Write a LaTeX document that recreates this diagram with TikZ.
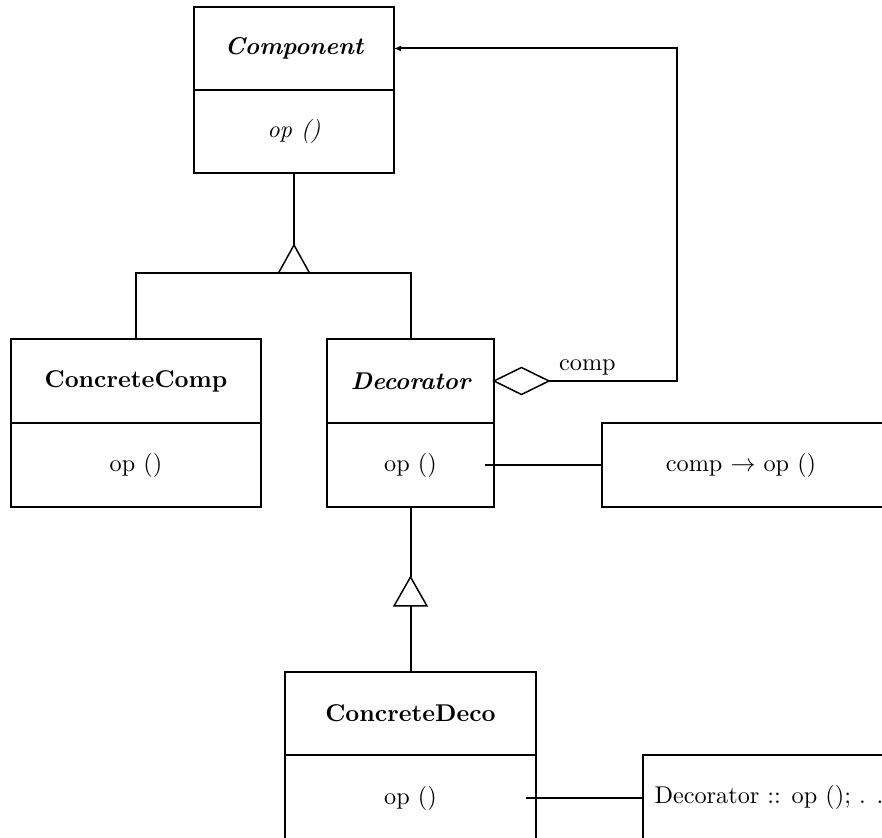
\documentclass[tikz,border=0pt]{standalone}
\usetikzlibrary{shapes.geometric,arrows.meta}
\begin{document}
\begin{tikzpicture}[x=0.4pt,y=-0.4pt,
  every node/.style={font=\fontsize{9.7}{11.6}\selectfont},
  box/.style={draw,line width=0.8pt,inner sep=0pt,outer sep=0pt},
  thin line/.style={line width=0.6pt},
  conn/.style={line width=0.8pt},
  plain/.style={inner sep=0pt}]
\useasboundingbox (0,0) rectangle (882,838);
\clip (0,0) rectangle (882,838);
% Component
\node[box,minimum width=80pt,minimum height=33.2pt,font=\fontsize{9.7}{11.6}\selectfont\bfseries\itshape] (comph) at (294,48.5) {Component};
\node[box,minimum width=80pt,minimum height=33.2pt,anchor=north,font=\fontsize{9.7}{11.6}\selectfont\itshape] (compb) at (comph.south) {op ()};
% ConcreteComp
\node[box,minimum width=100pt,minimum height=33.6pt,font=\fontsize{9.7}{11.6}\selectfont\bfseries] (cch) at (136,381) {ConcreteComp};
\node[box,minimum width=100pt,minimum height=33.6pt,anchor=north] (ccb) at (cch.south) {op ()};
% Decorator
\node[box,minimum width=66.8pt,minimum height=33.6pt,font=\fontsize{9.7}{11.6}\selectfont\bfseries\itshape] (dech) at (410.5,381) {Decorator};
\node[box,minimum width=66.8pt,minimum height=33.6pt,anchor=north] (decb) at (dech.south) {op ()};
% ConcreteDeco
\node[box,minimum width=100.4pt,minimum height=33.2pt,font=\fontsize{9.7}{11.6}\selectfont\bfseries] (cdh) at (410.5,713.5) {ConcreteDeco};
\node[box,minimum width=100.4pt,minimum height=34.4pt,anchor=north] (cdb) at (cdh.south) {op ()};
% notes
\node[box,minimum width=119.2pt,minimum height=33.6pt] (note1) at (751,465) {};
\node[plain] (note1t) at (741,465) {comp $\rightarrow$ op ()};
\node[box,minimum width=110.8pt,minimum height=36pt] (note2) at (781.5,800) {};
\node[plain,anchor=west] (note2t) at (654,797) {Decorator :: op (); . .};
% inheritance 1
\coordinate (t1) at (294,245);
\coordinate (j1) at (294,273);
\draw[conn] (compb.south) -- (t1);
\draw[thin line] (t1) -- ++(-15.5,28) -- ++(31,0) -- cycle;
\draw[conn] (cch.north) |- (j1) -| (dech.north);
% inheritance 2
\coordinate (t2) at (410.5,577);
\coordinate (j2) at (410.5,606);
\draw[conn] (decb.south) -- (t2);
\draw[thin line] (t2) -- ++(-16.5,29) -- ++(33,0) -- cycle;
\draw[conn] (j2) -- (cdh.north);
% aggregation
\node[diamond,draw,thin line,inner sep=0pt,outer sep=0pt,minimum width=22pt,minimum height=10.8pt,anchor=west] (dia) at (dech.east) {};
\coordinate (r1) at (677,381);
\draw[conn,-{Latex[length=2.8pt,width=2.4pt]}] (dia.east) -- node[above,inner sep=2pt,pos=0.3] (lbl) {comp} (r1) |- (comph.east);
% note links
\draw[conn] ([xshift=-3.6pt]decb.east) -- (note1.west |- decb.east);
\draw[conn] ([xshift=-4pt]cdb.east) -- (note2.west |- cdb.east);
\end{tikzpicture}
\end{document}
